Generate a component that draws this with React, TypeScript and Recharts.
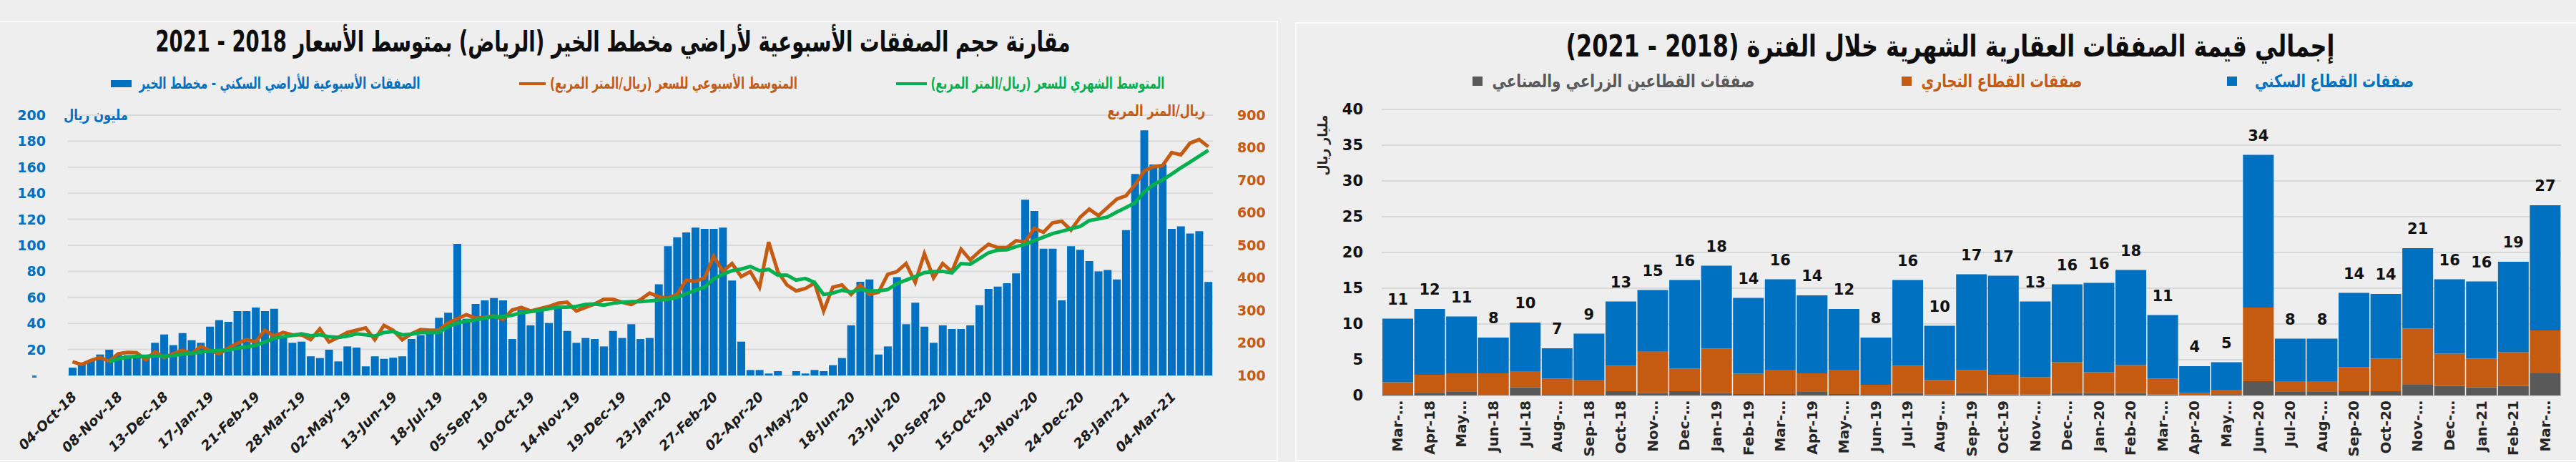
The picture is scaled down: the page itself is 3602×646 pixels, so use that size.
import React from "react";
import {
  ComposedChart,
  BarChart,
  Bar,
  Line,
  XAxis,
  YAxis,
  CartesianGrid,
  LabelList,
} from "recharts";

const FONT = '"DejaVu Sans", sans-serif';
const BLUE = "#0070c0";
const ORANGE = "#c55a11";
const GREEN = "#00b050";
const GRAY = "#595959";

// ---- left chart: weekly deals, Al-Khair plan (Riyadh) ----
const weekTickLabels = [
  "04-Oct-18", "08-Nov-18", "13-Dec-18", "17-Jan-19", "21-Feb-19",
  "28-Mar-19", "02-May-19", "13-Jun-19", "18-Jul-19", "05-Sep-19",
  "10-Oct-19", "14-Nov-19", "19-Dec-19", "23-Jan-20", "27-Feb-20",
  "02-Apr-20", "07-May-20", "18-Jun-20", "23-Jul-20", "10-Sep-20",
  "15-Oct-20", "19-Nov-20", "24-Dec-20", "28-Jan-21", "04-Mar-21",
];

// million SAR per week
const weeklyDeals = [
  6.0, 8.6, 11.5, 16.1, 19.8, 15.6, 15.6, 15.5, 15.6, 25.1,
  31.5, 23.3, 32.6, 27.1, 25.1, 37.5, 42.5, 41.2, 49.5, 49.5,
  52.2, 49.5, 51.3, 29.0, 25.1, 26.0, 14.7, 13.4, 19.8, 10.8,
  22.3, 21.4, 7.0, 14.7, 12.8, 13.7, 14.7, 28.0, 31.0, 32.0,
  44.3, 48.2, 101.1, 43.6, 55.0, 57.7, 59.5, 57.7, 28.0, 50.4,
  38.5, 49.5, 40.3, 52.2, 34.2, 25.1, 28.8, 28.0, 22.3, 34.2,
  28.8, 39.4, 28.0, 28.8, 70.1, 99.3, 106.2, 109.9, 113.6, 112.6,
  112.6, 113.6, 72.9, 26.0, 4.2, 4.2, 1.5, 3.3, 0, 3.3,
  1.5, 4.2, 3.3, 7.9, 13.4, 38.5, 72.0, 73.8, 16.1, 22.3,
  75.6, 39.4, 55.9, 37.5, 25.1, 38.5, 35.7, 35.7, 38.5, 54.0,
  66.5, 68.3, 70.9, 78.4, 135.0, 126.4, 97.4, 97.4, 57.7, 99.3,
  96.5, 87.9, 80.0, 81.0, 73.8, 111.7, 154.8, 188.3, 162.1, 162.1,
  112.6, 114.5, 109.0, 110.8, 71.8,
];

// SAR per m2, weekly average
const weeklyPrice = [
  142, 134, 146, 155, 144, 167, 171, 170, 148, 173,
  155, 167, 177, 167, 189, 177, 167, 184, 199, 210,
  203, 239, 221, 232, 225, 225, 210, 243, 203, 217,
  232, 239, 246, 210, 254, 239, 210, 228, 241, 239,
  239, 261, 274, 287, 276, 278, 283, 272, 301, 309,
  298, 305, 312, 322, 325, 298, 309, 320, 334, 334,
  325, 318, 333, 353, 342, 338, 349, 393, 389, 400,
  466, 420, 444, 404, 419, 371, 510, 419, 378, 360,
  367, 384, 298, 371, 378, 349, 378, 349, 356, 411,
  419, 444, 386, 474, 400, 444, 419, 488, 455, 481,
  503, 493, 493, 514, 510, 552, 540, 569, 574, 547,
  586, 611, 591, 616, 642, 652, 686, 728, 742, 745,
  785, 778, 814, 825, 803,
];

// SAR per m2, monthly average
const monthlyPrice = [
  null, null, null, null, 142, 151, 156, 159, 159, 161,
  159, 161, 166, 168, 172, 175, 177, 178, 184, 188,
  192, 203, 214, 219, 223, 228, 222, 225, 219, 217,
  221, 228, 225, 221, 232, 235, 225, 227, 232, 232,
  232, 250, 261, 267, 271, 276, 281, 281, 285, 293,
  296, 300, 305, 310, 310, 312, 318, 320, 316, 322,
  325, 327, 327, 329, 332, 334, 340, 351, 362, 371,
  397, 411, 422, 427, 435, 422, 426, 408, 408, 393,
  398, 386, 349, 353, 362, 356, 364, 360, 360, 364,
  382, 393, 404, 416, 419, 420, 415, 444, 442, 459,
  477, 485, 486, 496, 503, 514, 525, 536, 543, 551,
  558, 576, 581, 587, 602, 616, 631, 664, 686, 701,
  719, 738, 756, 774, 792,
];

const dealsTicks = [0, 20, 40, 60, 80, 100, 120, 140, 160, 180, 200];
const priceTicks = [100, 200, 300, 400, 500, 600, 700, 800, 900];

// ---- right chart: monthly value of real estate deals (billion SAR) ----
const months = [
  "Mar-…", "Apr-18", "May…", "Jun-18", "Jul-18", "Aug-…", "Sep-18", "Oct-18",
  "Nov-…", "Dec-…", "Jan-19", "Feb-19", "Mar-…", "Apr-19", "May-…", "Jun-19",
  "Jul-19", "Aug-…", "Sep-19", "Oct-19", "Nov-…", "Dec-…", "Jan-20", "Feb-20",
  "Mar-…", "Apr-20", "May…", "Jun-20", "Jul-20", "Aug-…", "Sep-20", "Oct-20",
  "Nov-…", "Dec-…", "Jan-21", "Feb-21", "Mar-…",
];
const agriIndustrial = [
  0.1, 0.3, 0.5, 0.05, 1.15, 0.1, 0.1, 0.6, 0.35, 0.6, 0.35, 0.2, 0.2,
  0.5, 0.2, 0.1, 0.35, 0.15, 0.35, 0.15, 0.15, 0.35, 0.35, 0.35, 0.15,
  0.05, 0.1, 2.0, 0.5, 0.5, 0.6, 0.6, 1.5, 1.35, 1.15, 1.35, 3.1,
];
const commercial = [
  1.75, 2.6, 2.6, 3.05, 2.25, 2.25, 2.1, 3.55, 5.85, 3.15, 6.2, 2.85, 3.4,
  2.6, 3.4, 1.4, 3.8, 2.0, 3.2, 2.75, 2.4, 4.3, 2.9, 3.9, 2.2,
  0.3, 0.7, 10.3, 1.5, 1.5, 3.35, 4.55, 7.85, 4.5, 4.0, 4.7, 6.0,
];
const residential = [
  8.9, 9.2, 7.95, 5.0, 6.8, 4.25, 6.45, 9.0, 8.55, 12.4, 11.6, 10.6, 12.65,
  10.9, 8.5, 6.6, 12.0, 7.6, 13.4, 13.85, 10.6, 10.9, 12.5, 13.3, 8.9,
  3.75, 3.85, 21.35, 5.95, 5.95, 10.4, 9.05, 11.25, 10.4, 10.8, 12.65, 17.5,
];
const valueTicks = [0, 5, 10, 15, 20, 25, 30, 35, 40];

const weeklyData = weeklyDeals.map((deals, i) => ({
  i,
  deals,
  weekly: weeklyPrice[i],
  monthly: monthlyPrice[i],
}));

const monthlyData = months.map((m, i) => ({
  m,
  agri: agriIndustrial[i],
  comm: commercial[i],
  res: residential[i],
  total: Math.round(agriIndustrial[i] + commercial[i] + residential[i]),
}));

let ctx: CanvasRenderingContext2D | null = null;
function textWidth(text: string, size: number) {
  if (!ctx) ctx = document.createElement("canvas").getContext("2d");
  ctx!.font = `bold ${size}px "DejaVu Sans"`;
  return ctx!.measureText(text).width;
}

// text squeezed/stretched to a given width, centred on (cx, cy)
function FitText({ text, cx, cy, w, size, color, rotate = 0 }: any) {
  const sx = w / textWidth(text, size);
  return (
    <div
      style={{
        position: "absolute",
        left: cx,
        top: cy,
        transform: `translate(-50%,-50%) rotate(${rotate}deg) scaleX(${sx})`,
        whiteSpace: "nowrap",
        direction: "rtl",
        fontFamily: FONT,
        fontWeight: "bold",
        fontSize: size,
        lineHeight: 1,
        color,
      }}
    >
      {text}
    </div>
  );
}

const Box = ({ x, y, w, h, color }: any) => (
  <div style={{ position: "absolute", left: x, top: y, width: w, height: h, background: color }} />
);

const WeekTick = ({ x, y, payload }: any) => {
  const ax = x + 2;
  const ay = y + 24;
  return (
    <text
      x={ax}
      y={ay}
      transform={`rotate(-45, ${ax}, ${ay})`}
      textAnchor="end"
      dominantBaseline="central"
      fontFamily={FONT}
      fontSize={19}
      fontWeight="bold"
      fontStyle="italic"
      fill="#1a1a1a"
    >
      {weekTickLabels[payload.value / 5]}
    </text>
  );
};

const DealsTick = ({ x, y, payload }: any) => (
  <text
    x={payload.value === 0 ? x - 12 : x}
    y={y}
    textAnchor="end"
    dominantBaseline="central"
    fontFamily={FONT}
    fontSize={19}
    fontWeight="bold"
    fill={BLUE}
  >
    {payload.value === 0 ? "-" : payload.value}
  </text>
);

const MonthTick = ({ x, y, payload }: any) => (
  <text
    x={x}
    y={y}
    transform={`rotate(-90, ${x}, ${y})`}
    textAnchor="end"
    dominantBaseline="central"
    fontFamily={FONT}
    fontSize={20}
    fontWeight="bold"
    fill="#262626"
  >
    {payload.value}
  </text>
);

const TotalLabel = ({ x, y, width, value }: any) => (
  <text
    x={x + width / 2}
    y={y - 27}
    textAnchor="middle"
    dominantBaseline="central"
    fontFamily={FONT}
    fontSize={21}
    fontWeight="bold"
    fill="#111"
  >
    {value}
  </text>
);

export default function App() {
  return (
    <div
      style={{
        position: "relative",
        width: 3602,
        height: 646,
        background: "#eeeeee",
        overflow: "hidden",
        fontFamily: FONT,
      }}
    >
      <style>{"body{margin:0}"}</style>

      {/* panels */}
      <div style={{ position: "absolute", left: 0, top: 29, width: 1785, height: 612, border: "2px solid #fbfbfb", borderLeft: "none" }} />
      <div style={{ position: "absolute", left: 1811, top: 31, width: 1800, height: 610, border: "2px solid #fbfbfb" }} />

      {/* left chart */}
      <div style={{ position: "absolute", left: 0, top: 0 }}>
        <ComposedChart
          width={1787}
          height={646}
          data={weeklyData}
          margin={{ top: 161, right: 0, bottom: 21, left: 0 }}
          barCategoryGap={1}
        >
          <CartesianGrid vertical={false} yAxisId="deals" stroke="#d9d9d9" strokeWidth={2} />
          <XAxis
            dataKey="i"
            interval={4}
            height={100}
            tickLine={false}
            axisLine={false}
            tickSize={0}
            tick={<WeekTick />}
          />
          <YAxis
            yAxisId="deals"
            domain={[0, 200]}
            ticks={dealsTicks}
            width={95}
            axisLine={false}
            tickLine={false}
            tickSize={0}
            tickMargin={31}
            tick={<DealsTick />}
          />
          <YAxis
            yAxisId="price"
            orientation="right"
            domain={[100, 900]}
            ticks={priceTicks}
            width={91}
            axisLine={false}
            tickLine={false}
            tickSize={0}
            tickMargin={34}
            tick={{ fill: ORANGE, fontSize: 19, fontWeight: "bold", fontFamily: FONT }}
          />
          <Bar yAxisId="deals" dataKey="deals" fill={BLUE} isAnimationActive={false} />
          <Line yAxisId="price" dataKey="weekly" stroke={ORANGE} strokeWidth={5} dot={false} isAnimationActive={false} />
          <Line yAxisId="price" dataKey="monthly" stroke={GREEN} strokeWidth={5} dot={false} isAnimationActive={false} />
        </ComposedChart>
      </div>

      {/* right chart */}
      <div style={{ position: "absolute", left: 1811, top: 0 }}>
        <BarChart
          width={1791}
          height={646}
          data={monthlyData}
          margin={{ top: 153, right: 21, bottom: 13, left: 0 }}
          barCategoryGap={1}
        >
          <CartesianGrid vertical={false} stroke="#d9d9d9" strokeWidth={2} />
          <XAxis
            dataKey="m"
            interval={0}
            height={80}
            tickLine={false}
            axisLine={false}
            tickSize={0}
            tickMargin={7}
            tick={<MonthTick />}
          />
          <YAxis
            domain={[0, 40]}
            ticks={valueTicks}
            width={121}
            axisLine={false}
            tickLine={false}
            tickSize={0}
            tickMargin={26}
            tick={{ fill: "#111", fontSize: 21, fontWeight: "bold", fontFamily: FONT }}
          />
          <Bar dataKey="agri" stackId="s" fill={GRAY} isAnimationActive={false} />
          <Bar dataKey="comm" stackId="s" fill={ORANGE} isAnimationActive={false} />
          <Bar dataKey="res" stackId="s" fill={BLUE} isAnimationActive={false}>
            <LabelList dataKey="total" content={<TotalLabel />} />
          </Bar>
        </BarChart>
      </div>

      {/* left titles and legend */}
      <FitText
        text="مقارنة حجم الصفقات الأسبوعية لأراضي مخطط الخير (الرياض) بمتوسط الأسعار 2018 - 2021"
        cx={857} cy={58} w={1279} size={40} color="#0d0d0d"
      />
      <Box x={155} y={112} w={29} h={10} color={BLUE} />
      <FitText text="الصفقات الأسبوعية للأراضي السكني - مخطط الخير" cx={391} cy={117} w={393} size={22} color={BLUE} />
      <Box x={726} y={115} w={37} h={4} color={ORANGE} />
      <FitText text="المتوسط الأسبوعي للسعر (ريال/المتر المربع)" cx={942} cy={117} w={346} size={22} color={ORANGE} />
      <Box x={1253} y={115} w={43} h={4} color={GREEN} />
      <FitText text="المتوسط الشهري للسعر (ريال/المتر المربع)" cx={1465} cy={117} w={327} size={22} color={GREEN} />
      <FitText text="مليون ريال" cx={134} cy={161} w={90} size={21} color={BLUE} />
      <FitText text="ريال/المتر المربع" cx={1617} cy={155} w={137} size={21} color={ORANGE} />

      {/* right titles and legend */}
      <FitText
        text="إجمالي قيمة الصفقات العقارية الشهرية خلال الفترة (2018 - 2021)"
        cx={2727} cy={65} w={1075} size={42} color="#0d0d0d"
      />
      <Box x={2059} y={107} w={14} h={13} color={GRAY} />
      <FitText text="صفقات القطاعين الزراعي والصناعي" cx={2270} cy={113} w={367} size={25} color={GRAY} />
      <Box x={2659} y={107} w={14} h={13} color={ORANGE} />
      <FitText text="صفقات القطاع التجاري" cx={2799} cy={113} w={225} size={25} color={ORANGE} />
      <Box x={3114} y={107} w={14} h={13} color={BLUE} />
      <FitText text="صفقات القطاع السكني" cx={3264} cy={113} w={222} size={25} color={BLUE} />
      <FitText text="مليار ريال" cx={1849} cy={203} w={85} size={19} color="#262626" rotate={-90} />
    </div>
  );
}
